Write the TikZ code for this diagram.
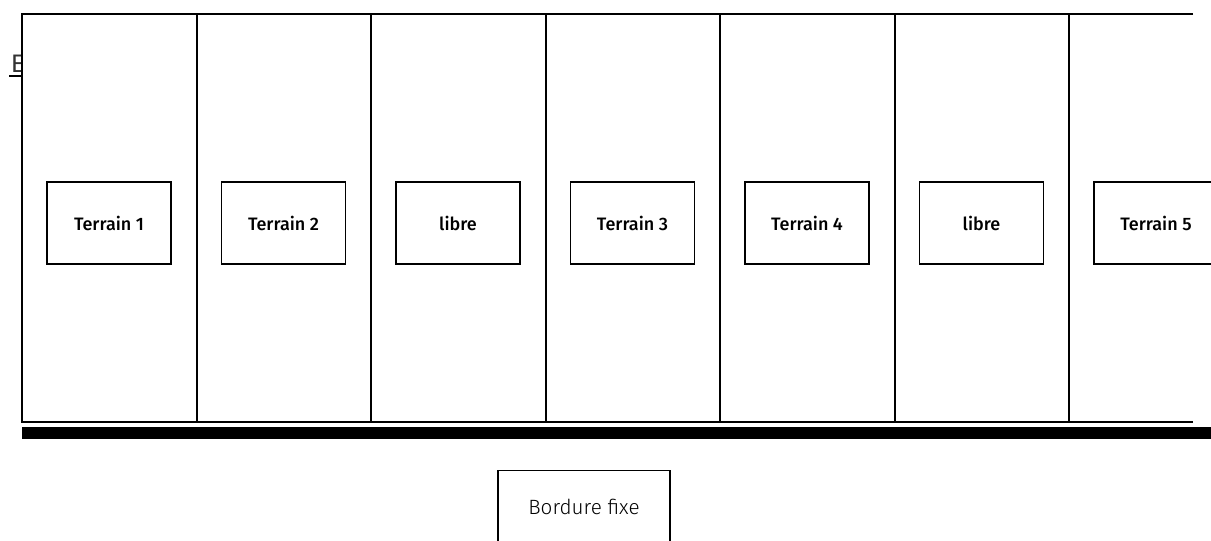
\documentclass[tikz,border=0pt]{standalone}
\usepackage{fontspec}
\setmainfont{Fira Sans}
\newfontfamily\medfont{Fira Sans Medium}
\newfontfamily\lightfont{Fira Sans Light}
\tikzset{
  terrain/.style={draw, line width=1pt, minimum width=93pt, minimum height=61.5pt, inner sep=0pt, font=\medfont\fontsize{13.5}{16}\selectfont},
  bordure/.style={draw, line width=1pt, minimum width=129pt, minimum height=55pt, inner sep=0pt, font=\lightfont\fontsize{15.5}{18}\selectfont},
}

\begin{document}
\begin{tikzpicture}[x=0.75pt, y=-0.75pt]
        \useasboundingbox (0,0) rectangle (1211,540);
        \clip (0,0) rectangle (1211,540);
        \node[anchor=base west, inner sep=0pt, text=black!80, font=\fontsize{19}{22}\selectfont] (titre) at (10.5,72) {E};
        \draw[line width=1pt] (9,76) -- (22,76);

        \fill[white] (22,14) rectangle (1193,422);
        \draw[line width=1.5pt] (1193,14) -- (22,14) -- (22,422) -- (1193,422);
        \foreach \x in {196.5, 371, 545.5, 720, 894.5, 1069}
            \draw[line width=1.5pt] (\x,14) -- (\x,422);
        \fill[black] (22,427) rectangle (1211,439);

        \foreach \i/\t in {1/Terrain 1, 2/Terrain 2, 3/libre, 4/Terrain 3, 5/Terrain 4, 6/libre, 7/Terrain 5}
            \node[terrain] (t\i) at ({109 + 174.5*(\i-1)}, 223) {\t};

        \node[bordure] (bordure) at (584, 507) {Bordure fixe};
    \end{tikzpicture}
\end{document}
